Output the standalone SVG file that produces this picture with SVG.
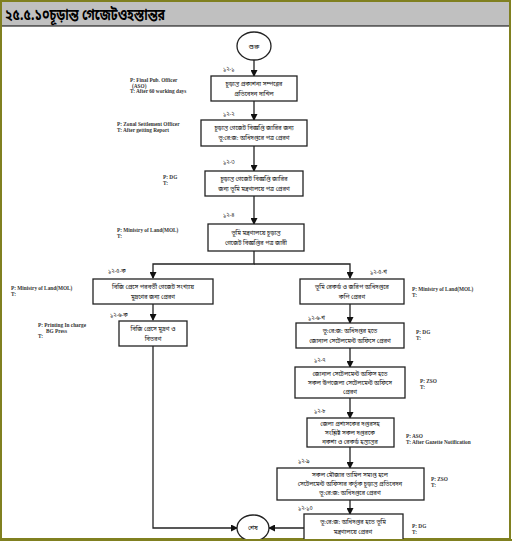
<svg xmlns="http://www.w3.org/2000/svg" width="512" height="541" viewBox="0 0 512 541">
<style>
.box{fill:#fff;stroke:#222;stroke-width:1.3}
.bt{font-family:"Noto Sans Bengali","Noto Sans","DejaVu Sans",sans-serif;font-size:6px;fill:#111;text-anchor:middle}
.num{font-family:"Noto Sans Bengali","Noto Sans","DejaVu Sans",sans-serif;font-size:5.5px;fill:#111}
.ann{font-family:"Liberation Serif",serif;font-size:5.3px;font-weight:bold;fill:#333}
.con{fill:none;stroke:#222;stroke-width:1.3}
.title{font-family:"Noto Sans Bengali","Noto Sans","DejaVu Sans",sans-serif;font-size:16px;font-weight:bold;fill:#000}
</style>
<defs>
<marker id="ah" markerUnits="userSpaceOnUse" markerWidth="7" markerHeight="7" refX="6" refY="3.5" orient="auto">
<path d="M0,0 L7,3.5 L0,7 z" fill="#111"/>
</marker>
</defs>
<rect x="0" y="0" width="512" height="541" fill="#fff"/>
<rect x="1" y="1" width="509" height="538" fill="#fff" stroke="#808020" stroke-width="2"/>
<rect x="2" y="2" width="507" height="24" fill="#c0c0c0"/>
<line x1="2" y1="26" x2="509" y2="26" stroke="#000" stroke-width="1.2"/>
<text class="title" x="5" y="20" textLength="160" lengthAdjust="spacingAndGlyphs">২৫.৫.১০চূড়ান্ত গেজেটওহস্তান্তর</text>

<g id="connectors">
<path class="con" d="M254,60 V76" marker-end="url(#ah)"/>
<path class="con" d="M254,101 V120" marker-end="url(#ah)"/>
<path class="con" d="M254,146 V171" marker-end="url(#ah)"/>
<path class="con" d="M254,196 V224" marker-end="url(#ah)"/>
<path class="con" d="M254,251 V264 H153 V278" marker-end="url(#ah)"/>
<path class="con" d="M254,264 H350 V278" marker-end="url(#ah)"/>
<path class="con" d="M153,304 V320" marker-end="url(#ah)"/>
<path class="con" d="M153,346 V528 H237" marker-end="url(#ah)"/>
<path class="con" d="M350,304 V323" marker-end="url(#ah)"/>
<path class="con" d="M350,348 V367" marker-end="url(#ah)"/>
<path class="con" d="M350,398 V418" marker-end="url(#ah)"/>
<path class="con" d="M350,447 V468" marker-end="url(#ah)"/>
<path class="con" d="M350,500 V514" marker-end="url(#ah)"/>
<path class="con" d="M304,528 H269" marker-end="url(#ah)"/>
</g>

<g id="start">
<ellipse class="box" cx="254" cy="46" rx="17" ry="14"/>
<text class="bt" x="254" y="48.5" style="font-size:7px">শুরু</text>
</g>

<g id="n12-1">
<text class="num" x="223" y="71">১২-১</text>
<rect class="box" x="211" y="76" width="86" height="25"/>
<text class="bt" x="254" y="86">চূড়ান্ত প্রকাশনা সম্পন্নের</text>
<text class="bt" x="254" y="96">প্রতিবেদন দাখিল</text>
<text class="ann" x="130" y="82">P: Final Pub. Officer</text>
<text class="ann" x="132" y="87.5">(ASO)</text>
<text class="ann" x="130" y="93">T: After 60 working days</text>
</g>

<g id="n12-2">
<text class="num" x="223" y="116">১২-২</text>
<rect class="box" x="201" y="120" width="106" height="26"/>
<text class="bt" x="254" y="130">চূড়ান্ত গেজেট বিজ্ঞপ্তি জারির জন্য</text>
<text class="bt" x="254" y="140">ভূ:রে:জ: অধিদপ্তরে পত্র প্রেরণ</text>
<text class="ann" x="117" y="126">P: Zonal Settlement Officer</text>
<text class="ann" x="117" y="131.5">T: After getting Report</text>
</g>

<g id="n12-3">
<text class="num" x="223" y="164">১২-৩</text>
<rect class="box" x="205" y="171" width="98" height="25"/>
<text class="bt" x="254" y="181">চূড়ান্ত গেজেট বিজ্ঞপ্তি জারির</text>
<text class="bt" x="254" y="191">জন্য ভূমি মন্ত্রণালয়ে পত্র প্রেরণ</text>
<text class="ann" x="163" y="179">P: DG</text>
<text class="ann" x="163" y="184.5">T:</text>
</g>

<g id="n12-4">
<text class="num" x="223" y="217">১২-৪</text>
<rect class="box" x="208" y="224" width="96" height="27"/>
<text class="bt" x="256" y="235">ভূমি মন্ত্রণালয়ে চূড়ান্ত</text>
<text class="bt" x="256" y="245">গেজেট বিজ্ঞপ্তির পত্র জারী</text>
<text class="ann" x="117" y="232">P: Ministry of Land(MOL)</text>
<text class="ann" x="117" y="237.5">T:</text>
</g>

<g id="n12-5-ka">
<text class="num" x="108" y="273">১২-৫-ক</text>
<rect class="box" x="93" y="279" width="120" height="25"/>
<text class="bt" x="153" y="289">বিজি প্রেসে পরবর্তী গেজেট সংখ্যায়</text>
<text class="bt" x="153" y="299">মুদ্রণের জন্য প্রেরণ</text>
<text class="ann" x="11" y="290">P: Ministry of Land(MOL)</text>
<text class="ann" x="11" y="295.5">T:</text>
</g>

<g id="n12-6-ka">
<text class="num" x="110" y="317">১২-৬-ক</text>
<rect class="box" x="119" y="321" width="68" height="25"/>
<text class="bt" x="153" y="331">বিজি প্রেসে মুদ্রণ ও</text>
<text class="bt" x="153" y="341">বিতরণ</text>
<text class="ann" x="38" y="327">P: Printing In charge</text>
<text class="ann" x="46" y="332.5">BG Press</text>
<text class="ann" x="38" y="338">T:</text>
</g>

<g id="n12-5-kha">
<text class="num" x="370" y="274">১২-৫-খ</text>
<rect class="box" x="300" y="279" width="104" height="25"/>
<text class="bt" x="352" y="289">ভূমি রেকর্ড ও জরিপ অধিদপ্তরে</text>
<text class="bt" x="352" y="299">কপি প্রেরণ</text>
<text class="ann" x="412" y="291">P: Ministry of Land(MOL)</text>
<text class="ann" x="412" y="296.5">T:</text>
</g>

<g id="n12-6-kha">
<text class="num" x="308" y="320">১২-৬-খ</text>
<rect class="box" x="296" y="323" width="108" height="25"/>
<text class="bt" x="350" y="333">ভূ:রে:জ: অধিদপ্তর হতে</text>
<text class="bt" x="350" y="343">জোনাল সেটেলমেন্ট অফিসে প্রেরণ</text>
<text class="ann" x="416" y="334">P: DG</text>
<text class="ann" x="416" y="339.5">T:</text>
</g>

<g id="n12-7">
<text class="num" x="314" y="362">১২-৭</text>
<rect class="box" x="295" y="367" width="110" height="31"/>
<text class="bt" x="350" y="376">জোনাল সেটেলমেন্ট অফিস হতে</text>
<text class="bt" x="350" y="385">সকল উপজেলা সেটেলমেন্ট অফিসে</text>
<text class="bt" x="350" y="394">প্রেরণ</text>
<text class="ann" x="420" y="383">P: ZSO</text>
<text class="ann" x="420" y="388.5">T:</text>
</g>

<g id="n12-8">
<text class="num" x="314" y="413">১২-৮</text>
<rect class="box" x="307" y="418" width="87" height="29"/>
<text class="bt" x="350" y="426">জেলা প্রশাসকের দপ্তরসহ</text>
<text class="bt" x="350" y="435">সংশ্লিষ্ট সকল দপ্তরকে</text>
<text class="bt" x="350" y="444">নকশা ও রেকর্ড হস্তান্তর</text>
<text class="ann" x="406" y="438">P: ASO</text>
<text class="ann" x="406" y="443.5">T: After Gazette Notification</text>
</g>

<g id="n12-9">
<text class="num" x="298" y="463">১২-৯</text>
<rect class="box" x="277" y="468" width="147" height="32"/>
<text class="bt" x="350" y="477">সকল মৌজার তামিল সমাপ্ত হলে</text>
<text class="bt" x="350" y="486">সেটেলমেন্ট অফিসার কর্তৃক চূড়ান্ত প্রতিবেদন</text>
<text class="bt" x="350" y="495">ভূ:রে:জ: অধিদপ্তরে প্রেরণ</text>
<text class="ann" x="431" y="481">P: ZSO</text>
<text class="ann" x="431" y="486.5">T:</text>
</g>

<g id="n12-10">
<text class="num" x="298" y="510">১২-১০</text>
<rect class="box" x="304" y="514" width="99" height="32"/>
<text class="bt" x="353" y="524">ভূ:রে:জ: অধিদপ্তর হতে ভূমি</text>
<text class="bt" x="353" y="534">মন্ত্রণালয়ে প্রেরণ</text>
<text class="ann" x="412" y="528">P: DG</text>
<text class="ann" x="412" y="533.5">T:</text>
</g>

<g id="end">
<ellipse class="box" cx="253" cy="528" rx="16" ry="13"/>
<text class="bt" x="253" y="530">শেষ</text>
</g>
<rect x="0" y="539" width="512" height="2" fill="#808020"/>
</svg>
